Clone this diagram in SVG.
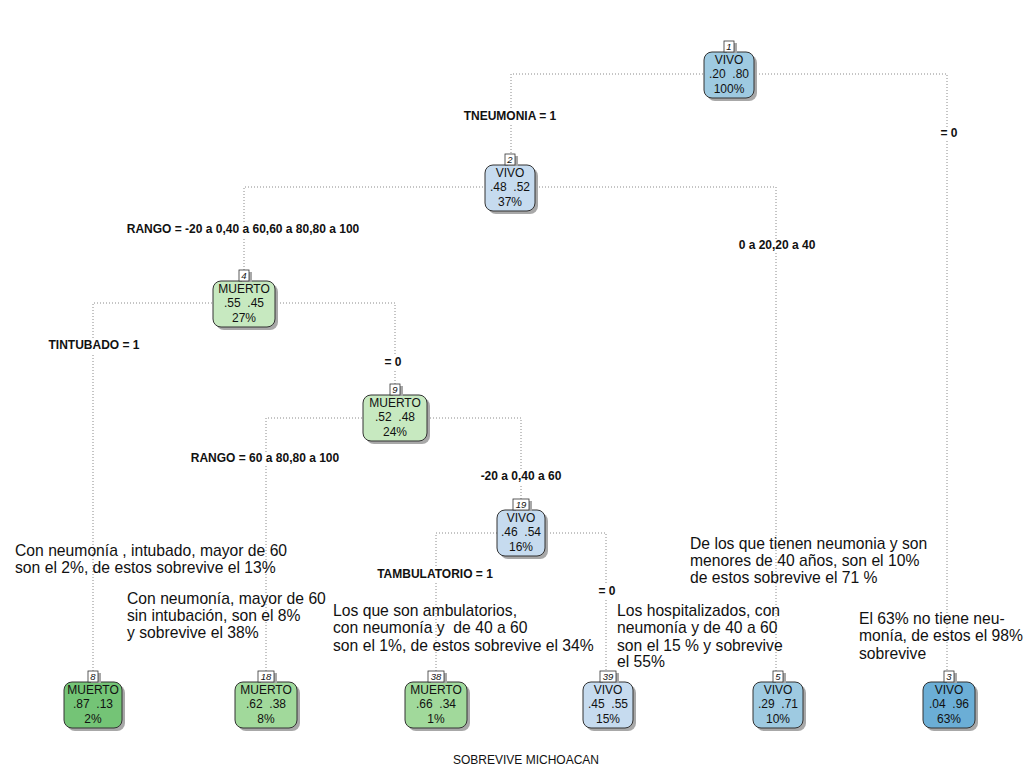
<svg xmlns="http://www.w3.org/2000/svg" width="1024" height="768" viewBox="0 0 1024 768">
<style>
.bg{fill:#fff}
.edge{fill:none;stroke:#8a8a8a;stroke-width:1;stroke-dasharray:1 2}
.box{stroke:#333;stroke-width:1}
.shadow{fill:#a8a8a8}
.nt{font-family:"Liberation Sans",Arial,sans-serif;font-size:12px;fill:#111;text-anchor:middle;white-space:pre}
.num{font-family:"Liberation Sans",Arial,sans-serif;font-size:9.5px;font-style:italic;fill:#111;text-anchor:middle}
.numbox{fill:#fff;stroke:#333;stroke-width:0.8}
.split{font-family:"Liberation Sans",Arial,sans-serif;font-size:12px;font-weight:bold;fill:#111;text-anchor:middle}
.ann{font-family:"Liberation Sans",Arial,sans-serif;font-size:15.7px;fill:#111;white-space:pre}
.title{font-family:"Liberation Sans",Arial,sans-serif;font-size:12px;fill:#111;text-anchor:middle}
</style>
<rect class="bg" x="0" y="0" width="1024" height="768"/>

<g id="connectors">
<path class="edge" d="M511,153 V74 H947 V671"/>
<path class="edge" d="M244,270 V187 H776 V671"/>
<path class="edge" d="M93,671 V303 H395 V384"/>
<path class="edge" d="M266,671 V418 H521 V499"/>
<path class="edge" d="M436,671 V533 H606 V671"/>
<g id="split-labels">
<rect class="bg" x="462" y="110" width="96" height="14"/>
<text class="split" x="510" y="120">TNEUMONIA = 1</text>
<rect class="bg" x="938" y="127" width="22" height="14"/>
<text class="split" x="949" y="137">= 0</text>
<rect class="bg" x="124" y="223" width="238" height="14"/>
<text class="split" x="243" y="233">RANGO = -20 a 0,40 a 60,60 a 80,80 a 100</text>
<rect class="bg" x="736" y="239" width="82" height="14"/>
<text class="split" x="777" y="249">0 a 20,20 a 40</text>
<rect class="bg" x="46" y="339" width="96" height="14"/>
<text class="split" x="94" y="349">TINTUBADO = 1</text>
<rect class="bg" x="382" y="356" width="22" height="14"/>
<text class="split" x="393" y="366">= 0</text>
<rect class="bg" x="187" y="452" width="156" height="14"/>
<text class="split" x="265" y="462">RANGO = 60 a 80,80 a 100</text>
<rect class="bg" x="477" y="470" width="88" height="14"/>
<text class="split" x="521" y="480">-20 a 0,40 a 60</text>
<rect class="bg" x="374" y="568" width="122" height="14"/>
<text class="split" x="435" y="578">TAMBULATORIO = 1</text>
<rect class="bg" x="596" y="585" width="22" height="14"/>
<text class="split" x="607" y="595">= 0</text>
</g>
</g>

<g id="node1" transform="translate(729,52)">
<rect class="shadow" x="-22" y="3" width="50" height="46" rx="8"/>
<rect class="box" x="-25" y="0" width="50" height="46" rx="8" fill="#9ecae1"/>
<rect class="shadow" x="-2" y="-9" width="10" height="10"/>
<rect class="numbox" x="-5" y="-11" width="10" height="11"/>
<text class="num" x="0" y="-2.5">1</text>
<text class="nt" x="0" y="12">VIVO</text>
<text class="nt" x="0" y="26">.20  .80</text>
<text class="nt" x="0" y="41">100%</text>
</g>

<g id="node2" transform="translate(510,165)">
<rect class="shadow" x="-22" y="3" width="50" height="46" rx="8"/>
<rect class="box" x="-25" y="0" width="50" height="46" rx="8" fill="#c6dbef"/>
<rect class="shadow" x="-2" y="-9" width="10" height="10"/>
<rect class="numbox" x="-5" y="-11" width="10" height="11"/>
<text class="num" x="0" y="-2.5">2</text>
<text class="nt" x="0" y="12">VIVO</text>
<text class="nt" x="0" y="26">.48  .52</text>
<text class="nt" x="0" y="41">37%</text>
</g>

<g id="node4" transform="translate(244,281)">
<rect class="shadow" x="-28" y="3" width="62" height="46" rx="8"/>
<rect class="box" x="-31" y="0" width="62" height="46" rx="8" fill="#c7e9c0"/>
<rect class="shadow" x="-2" y="-9" width="10" height="10"/>
<rect class="numbox" x="-5" y="-11" width="10" height="11"/>
<text class="num" x="0" y="-2.5">4</text>
<text class="nt" x="0" y="12">MUERTO</text>
<text class="nt" x="0" y="26">.55  .45</text>
<text class="nt" x="0" y="41">27%</text>
</g>

<g id="node9" transform="translate(395,395)">
<rect class="shadow" x="-29" y="3" width="64" height="46" rx="8"/>
<rect class="box" x="-32" y="0" width="64" height="46" rx="8" fill="#c7e9c0"/>
<rect class="shadow" x="-2" y="-9" width="10" height="10"/>
<rect class="numbox" x="-5" y="-11" width="10" height="11"/>
<text class="num" x="0" y="-2.5">9</text>
<text class="nt" x="0" y="12">MUERTO</text>
<text class="nt" x="0" y="26">.52  .48</text>
<text class="nt" x="0" y="41">24%</text>
</g>

<g id="node19" transform="translate(521,510)">
<rect class="shadow" x="-21" y="3" width="48" height="46" rx="8"/>
<rect class="box" x="-24" y="0" width="48" height="46" rx="8" fill="#c6dbef"/>
<rect class="shadow" x="-5" y="-9" width="16" height="10"/>
<rect class="numbox" x="-8" y="-11" width="16" height="11"/>
<text class="num" x="0" y="-2.5">19</text>
<text class="nt" x="0" y="12">VIVO</text>
<text class="nt" x="0" y="26">.46  .54</text>
<text class="nt" x="0" y="41">16%</text>
</g>

<g id="node8" transform="translate(93,682)">
<rect class="shadow" x="-26" y="3" width="58" height="46" rx="8"/>
<rect class="box" x="-29" y="0" width="58" height="46" rx="8" fill="#74c476"/>
<rect class="shadow" x="-2" y="-9" width="10" height="10"/>
<rect class="numbox" x="-5" y="-11" width="10" height="11"/>
<text class="num" x="0" y="-2.5">8</text>
<text class="nt" x="0" y="12">MUERTO</text>
<text class="nt" x="0" y="26">.87  .13</text>
<text class="nt" x="0" y="41">2%</text>
</g>

<g id="node18" transform="translate(266,682)">
<rect class="shadow" x="-28" y="3" width="62" height="46" rx="8"/>
<rect class="box" x="-31" y="0" width="62" height="46" rx="8" fill="#a1d99b"/>
<rect class="shadow" x="-5" y="-9" width="16" height="10"/>
<rect class="numbox" x="-8" y="-11" width="16" height="11"/>
<text class="num" x="0" y="-2.5">18</text>
<text class="nt" x="0" y="12">MUERTO</text>
<text class="nt" x="0" y="26">.62  .38</text>
<text class="nt" x="0" y="41">8%</text>
</g>

<g id="node38" transform="translate(436,682)">
<rect class="shadow" x="-28" y="3" width="62" height="46" rx="8"/>
<rect class="box" x="-31" y="0" width="62" height="46" rx="8" fill="#a1d99b"/>
<rect class="shadow" x="-5" y="-9" width="16" height="10"/>
<rect class="numbox" x="-8" y="-11" width="16" height="11"/>
<text class="num" x="0" y="-2.5">38</text>
<text class="nt" x="0" y="12">MUERTO</text>
<text class="nt" x="0" y="26">.66  .34</text>
<text class="nt" x="0" y="41">1%</text>
</g>

<g id="node39" transform="translate(608,682)">
<rect class="shadow" x="-22" y="3" width="50" height="46" rx="8"/>
<rect class="box" x="-25" y="0" width="50" height="46" rx="8" fill="#c6dbef"/>
<rect class="shadow" x="-5" y="-9" width="16" height="10"/>
<rect class="numbox" x="-8" y="-11" width="16" height="11"/>
<text class="num" x="0" y="-2.5">39</text>
<text class="nt" x="0" y="12">VIVO</text>
<text class="nt" x="0" y="26">.45  .55</text>
<text class="nt" x="0" y="41">15%</text>
</g>

<g id="node5" transform="translate(778,682)">
<rect class="shadow" x="-22" y="3" width="50" height="46" rx="8"/>
<rect class="box" x="-25" y="0" width="50" height="46" rx="8" fill="#9ecae1"/>
<rect class="shadow" x="-2" y="-9" width="10" height="10"/>
<rect class="numbox" x="-5" y="-11" width="10" height="11"/>
<text class="num" x="0" y="-2.5">5</text>
<text class="nt" x="0" y="12">VIVO</text>
<text class="nt" x="0" y="26">.29  .71</text>
<text class="nt" x="0" y="41">10%</text>
</g>

<g id="node3" transform="translate(949,682)">
<rect class="shadow" x="-23" y="3" width="52" height="46" rx="8"/>
<rect class="box" x="-26" y="0" width="52" height="46" rx="8" fill="#6baed6"/>
<rect class="shadow" x="-2" y="-9" width="10" height="10"/>
<rect class="numbox" x="-5" y="-11" width="10" height="11"/>
<text class="num" x="0" y="-2.5">3</text>
<text class="nt" x="0" y="12">VIVO</text>
<text class="nt" x="0" y="26">.04  .96</text>
<text class="nt" x="0" y="41">63%</text>
</g>

<g id="annotations">
<text class="ann" x="15" y="556">Con neumonía , intubado, mayor de 60</text>
<text class="ann" x="15" y="573">son el 2%, de estos sobrevive el 13%</text>
<text class="ann" x="127" y="604">Con neumonía, mayor de 60</text>
<text class="ann" x="127" y="621">sin intubación, son el 8%</text>
<text class="ann" x="127" y="638">y sobrevive el 38%</text>
<text class="ann" x="333" y="616">Los que son ambulatorios,</text>
<text class="ann" x="333" y="633">con neumonía y  de 40 a 60</text>
<text class="ann" x="333" y="651">son el 1%, de estos sobrevive el 34%</text>
<text class="ann" x="617" y="616">Los hospitalizados, con</text>
<text class="ann" x="617" y="633">neumonía y de 40 a 60</text>
<text class="ann" x="617" y="651">son el 15 % y sobrevive</text>
<text class="ann" x="617" y="667">el 55%</text>
<text class="ann" x="690" y="549">De los que tienen neumonia y son</text>
<text class="ann" x="690" y="566">menores de 40 años, son el 10%</text>
<text class="ann" x="690" y="583">de estos sobrevive el 71 %</text>
<text class="ann" x="859" y="624">El 63% no tiene neu-</text>
<text class="ann" x="859" y="641">monía, de estos el 98%</text>
<text class="ann" x="859" y="659">sobrevive</text>
</g>

<text class="title" x="526" y="764">SOBREVIVE MICHOACAN</text>
</svg>
